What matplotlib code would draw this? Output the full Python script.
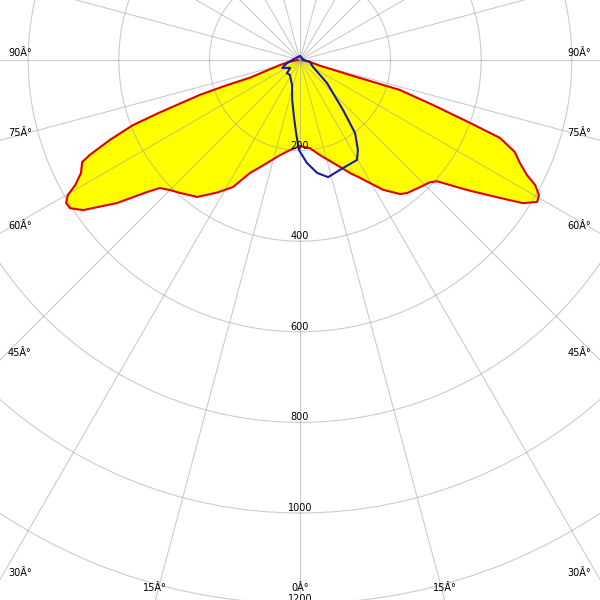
import numpy as np
import matplotlib
matplotlib.use('Agg')
import matplotlib.pyplot as plt

# C0-C180 plane (negative angle = left side)
red_angles = [-90, -80, -76, -70.5, -71, -70.8, -69.5, -68.7, -67.2, -65.7, -64.9,
              -62.7, -60.9, -59.8, -58.6, -57.2, -55.3, -52, -49.2, -47.6, -45,
              -42, -36.9, -32, -27.8, -23.9, -17.8, -12, -6.3, 0,
              6.5, 12, 20.5, 23.9, 27, 32.6, 36.7, 38.8, 43.4, 46.8, 48.5, 52.1,
              55.4, 57.3, 59.1, 60.5, 62, 63.1, 64.9, 66.8, 68.7, 69.7, 71.3,
              73.3, 73.3, 74, 80, 90]
red_values = [5, 25, 45, 117, 175, 234, 330, 396, 455, 509, 531,
              544, 568, 593, 605, 604, 582, 513, 446, 419, 406,
              395, 378, 345, 317, 273, 239, 215, 200, 190,
              196, 215, 252, 273, 292, 340, 369, 377, 386, 394, 404, 467,
              536, 585, 610, 606, 588, 562, 536, 516, 474, 400, 310,
              230, 115, 46, 20, 5]

# C90-C270 plane
blue_angles = [90, 79, 61.7, 49.6, 40.7, 37, 32.8, 29.7, 20, 13.5, 8.6, 3.9,
               -0.6, -3.1, -6, -11, -17.7, -33.7, -45, -51, -66, -77, -95,
               -180, -270]
blue_values = [8, 22, 33, 78, 146, 202, 236, 254, 258, 266, 252, 228,
               199, 161, 127, 90, 58, 40, 41, 28, 43, 29, 15,
               9, 8]

r_ticks = [200, 400, 600, 800, 1000, 1200]
angle_ticks = [0, 15, 30, 45, 60, 75, 90]

W = H = 600
cx, cy = 300, 540          # pole position in pixels (from bottom)
px_per_unit = 90.6 / 200
rmax = 1400
rpx = rmax * px_per_unit

fig = plt.figure(figsize=(6, 6), dpi=100)
fig.patch.set_facecolor('white')
fig.patch.set_edgecolor('black')
fig.patch.set_linewidth(1.5)

ax = fig.add_axes(((cx - rpx) / W, (cy - rpx) / H, 2 * rpx / W, 2 * rpx / H),
                  projection='polar')
ax.set_theta_zero_location('S')
ax.set_theta_direction(1)
ax.set_ylim(0, rmax)
ax.set_xticks(np.radians(np.arange(0, 360, 15)))
ax.set_xticklabels([])
ax.set_yticks(r_ticks)
ax.set_yticklabels([])
ax.spines['polar'].set_visible(False)
ax.set_axisbelow(False)
ax.grid(True, color=(0.6, 0.6, 0.6), alpha=0.5, linewidth=0.8)
ax.set_facecolor('white')

ra = np.radians(red_angles)
ax.fill(ra, red_values, color='#ffff00', zorder=1, linewidth=0)
ax.plot(ra, red_values, color='#e00000', linewidth=1.5, zorder=3)
ax.plot(np.radians(blue_angles), blue_values, color='#1c1c9c', linewidth=1.5, zorder=4)

for r in r_ticks:
    ax.text(0, r, str(r), ha='center', va='bottom', fontsize=7, zorder=6)

# angle labels sit where the radial lines leave the picture
for a in angle_ticks:
    for side in ([1] if a == 0 else [-1, 1]):
        dx = side * np.sin(np.radians(a))
        dy = -np.cos(np.radians(a))
        ts = []
        if dx < 0:
            ts.append(cx / -dx)
        if dx > 0:
            ts.append((W - cx) / dx)
        if dy < 0:
            ts.append(cy / -dy)
        t = min(ts)
        x, y = cx + t * dx, cy + t * dy
        lab = '%dÂ°' % a
        if y < 2:
            fig.text(x / W, 7 / H, lab, ha='center', va='bottom', fontsize=7)
        elif side < 0:
            fig.text(8 / W, (y + 7) / H, lab, ha='left', va='center', fontsize=7)
        else:
            fig.text((W - 9) / W, (y + 7) / H, lab, ha='right', va='center', fontsize=7)

fig.savefig('out.png', dpi=100)
